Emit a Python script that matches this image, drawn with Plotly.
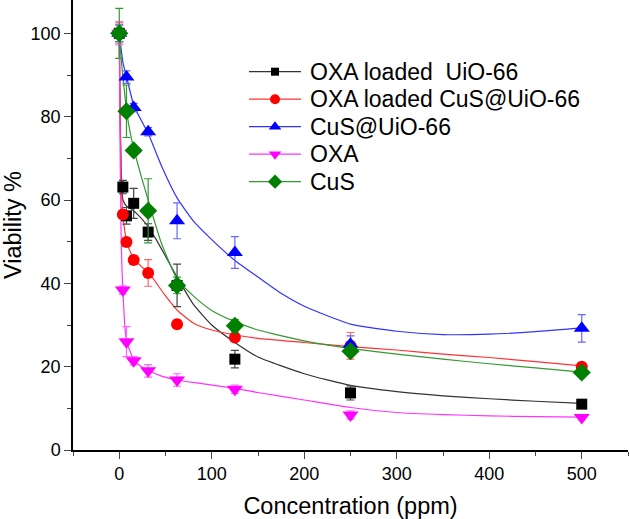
import plotly.graph_objects as go

# ---- data ----
conc = [0, 3.9, 7.8, 15.6, 31.25, 62.5, 125, 250, 500]

oxa_uio = [100, 63.1, 56.2, 59.2, 52.3, 39.5, 21.8, 13.7, 11.0]
oxa_uio_err = [2.0, 1.6, 2.0, 3.6, 2.0, 5.1, 2.1, 1.7, 1.0]

oxa_cus_uio = [100, 56.5, 49.9, 45.6, 42.5, 30.2, 27.0, 25.0, 20.0]
oxa_cus_uio_err = [2.5, 1.0, 1.0, 1.0, 3.2, 1.0, 1.0, 3.2, 0.8]

cus_uio = [100, None, 89.5, 82.2, 76.4, 55.0, 47.4, 25.4, 29.2]
cus_uio_err = [2.0, 0, 1.5, 1.0, 1.0, 4.3, 3.8, 2.0, 3.3]

oxa = [100, 38.4, 26.0, 21.4, 19.0, 16.8, 14.6, 8.4, 7.8]
oxa_err = [2.8, 1.0, 3.6, 1.0, 1.5, 1.5, 1.0, 1.0, 0.5]

cus = [100, None, 81.3, 71.9, 57.4, 39.5, 29.8, 23.7, 18.6]
cus_err = [6.0, 0, 6.3, 1.0, 7.7, 2.0, 1.5, 1.0, 0.5]

# fitted curves
fit_x_uio = [0, 1, 2, 4, 8, 12, 20, 30, 40, 50, 62.5, 80, 100, 125, 150, 200, 250, 300, 350, 400, 450, 500]
fit_uio = [100, 80, 68, 60, 58.5, 58, 56.5, 54, 50.5, 46.5, 41.5, 35, 30, 25.8, 22.3, 18.3, 15.5, 14, 13, 12.3, 11.7, 11.2]

fit_x_cus_uio_oxa = [0, 1, 2, 3, 4, 6, 8, 12, 16, 24, 32, 48, 62.5, 80, 100, 125, 150, 200, 250, 300, 350, 400, 450, 500]
fit_cus_uio_oxa = [100, 80, 66, 59, 56, 52.5, 50, 47.5, 46, 44, 42.5, 37.6, 33.6, 30.5, 28.8, 27.6, 26.8, 25.8, 24.8, 24, 23, 22.2, 21.2, 20.2]

fit_x_cus_uio = [0, 4, 8, 16, 31.25, 45, 62.5, 80, 100, 125, 150, 175, 200, 250, 300, 350, 400, 450, 500]
fit_cus_uio = [100, 93, 89.5, 82.5, 76, 68.5, 60.5, 55, 50.5, 45.5, 41.5, 37.6, 34.5, 30.2, 28.5, 27.7, 27.8, 28.4, 29.3]

fit_x_oxa = [0, 1, 2, 3, 4, 6, 8, 12, 16, 24, 32, 45, 62.5, 87.5, 125, 150, 200, 250, 300, 350, 400, 450, 500]
fit_oxa = [100, 70, 52, 43, 38, 30, 26, 23.5, 21.5, 20, 19, 17.8, 16.8, 16, 14.8, 13.8, 12, 10.2, 9.0, 8.5, 8.2, 8.0, 7.9]

fit_x_cus = [0, 2, 4, 8, 12, 16, 24, 31.25, 45, 62.5, 80, 100, 125, 150, 200, 250, 300, 350, 400, 450, 500]
fit_cus = [100, 94, 89.5, 81.2, 76, 72, 65.5, 60, 50, 41, 37, 33.5, 30.8, 28.8, 26.2, 24.4, 23, 21.8, 20.7, 19.7, 18.7]

names = ["OXA loaded  UiO-66", "OXA loaded CuS@UiO-66", "CuS@UiO-66", "OXA", "CuS"]

series = [
    (names[0], oxa_uio, oxa_uio_err, fit_x_uio, fit_uio, "#000000", "#333333", "#444444", "square", 11, 8),
    (names[1], oxa_cus_uio, oxa_cus_uio_err, fit_x_cus_uio_oxa, fit_cus_uio_oxa, "#ff0000", "#ff3333", "#ff6666", "circle", 12, 10),
    (names[2], cus_uio, cus_uio_err, fit_x_cus_uio, fit_cus_uio, "#0000ff", "#3333ff", "#6666ff", "triangle-up", 14, 11),
    (names[3], oxa, oxa_err, fit_x_oxa, fit_oxa, "#ff00ff", "#ff33ff", "#ff66ff", "triangle-down", 14, 11),
    (names[4], cus, cus_err, fit_x_cus, fit_cus, "#007f00", "#339933", "#339933", "diamond", 14, 11),
]

# legend layout (paper fractions of the plot area)
leg_rows = [0.8407, 0.7796, 0.7184, 0.6573, 0.5962]
leg_line_x = [0.3171, 0.4108]
leg_mark_x = 0.364
leg_text_x = 0.4234

fig = go.Figure()

# fit lines
for s in series:
    name, y, err, fx, fy, mc, lc, ec, sym, sz, lsz = s
    fig.add_trace(go.Scatter(x=fx, y=fy, mode="lines",
                             line=dict(color=lc, width=1.2, shape="spline", smoothing=0.5),
                             showlegend=False, hoverinfo="skip"))

# data points with error bars
for s in series:
    name, y, err, fx, fy, mc, lc, ec, sym, sz, lsz = s
    fig.add_trace(go.Scatter(x=conc, y=y, mode="markers", name=name,
                             marker=dict(symbol=sym, size=sz, color=mc, line=dict(width=0)),
                             error_y=dict(type="data", array=err, visible=True, color=ec,
                                          thickness=1.2, width=4),
                             showlegend=False))

font_family = "Liberation Sans, Arial, sans-serif"
annotations = []

# legend drawn on an overlay [0,1] axis pair
for s, ry in zip(series, leg_rows):
    name, y, err, fx, fy, mc, lc, ec, sym, sz, lsz = s
    fig.add_trace(go.Scatter(x=leg_line_x, y=[ry, ry], xaxis="x2", yaxis="y2", mode="lines",
                             line=dict(color=lc, width=1.2), showlegend=False, hoverinfo="skip"))
    fig.add_trace(go.Scatter(x=[leg_mark_x], y=[ry], xaxis="x2", yaxis="y2", mode="markers",
                             marker=dict(symbol=sym, size=lsz, color=mc, line=dict(width=0)),
                             showlegend=False, hoverinfo="skip"))
    annotations.append(dict(x=leg_text_x, y=ry, xref="paper", yref="paper", text=name,
                            showarrow=False, xanchor="left", yanchor="middle",
                            font=dict(size=23, family=font_family, color="black")))

fig.update_layout(
    width=630, height=519,
    margin=dict(l=73, r=2, t=0, b=69),
    paper_bgcolor="white", plot_bgcolor="white",
    font=dict(family=font_family, color="black", size=18),
    showlegend=False,
    annotations=annotations,
    xaxis=dict(range=[-50, 550], tick0=0, dtick=100, ticks="outside", ticklen=7, tickwidth=1.3,
               showline=True, linecolor="black", linewidth=1.5, showgrid=False, zeroline=False,
               tickfont=dict(size=18), title=dict(text="Concentration (ppm)", font=dict(size=23.5), standoff=14),
               minor=dict(dtick=50, tick0=0, ticks="outside", ticklen=4, tickwidth=1.3, showgrid=False)),
    yaxis=dict(range=[0, 108], tick0=0, dtick=20, ticks="outside", ticklen=7, tickwidth=1.3,
               showline=True, linecolor="black", linewidth=1.5, showgrid=False, zeroline=False,
               tickfont=dict(size=18), title=dict(text="Viability %", font=dict(size=23.5), standoff=12),
               minor=dict(dtick=10, tick0=0, ticks="outside", ticklen=4, tickwidth=1.3, showgrid=False)),
    xaxis2=dict(overlaying="x", range=[0, 1], visible=False, fixedrange=True),
    yaxis2=dict(overlaying="y", range=[0, 1], visible=False, fixedrange=True),
)

fig.write_html("out.html", config={"displayModeBar": False},
               post_script="document.body.style.margin='0';document.body.style.overflow='hidden';")
